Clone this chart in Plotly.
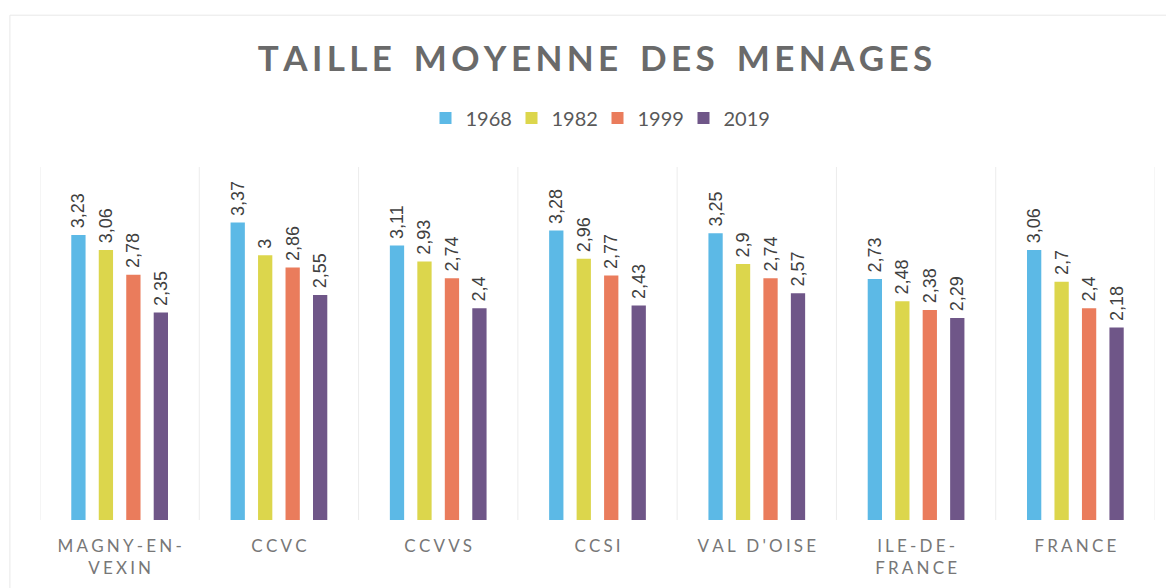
import plotly.graph_objects as go

categories = ["MAGNY-EN-<br>VEXIN", "CCVC", "CCVVS", "CCSI", "VAL D'OISE", "ILE-DE-<br>FRANCE", "FRANCE"]
years = ["1968", "1982", "1999", "2019"]
v1968 = [3.23, 3.37, 3.11, 3.28, 3.25, 2.73, 3.06]
v1982 = [3.06, 3.00, 2.93, 2.96, 2.90, 2.48, 2.70]
v1999 = [2.78, 2.86, 2.74, 2.77, 2.74, 2.38, 2.40]
v2019 = [2.35, 2.55, 2.40, 2.43, 2.57, 2.29, 2.18]
series = [v1968, v1982, v1999, v2019]
colors = ["#5cb9e6", "#dcd64c", "#ea7c5c", "#6f5688"]


def spaced(s):
    return "<br>".join("\u2009\u200a".join(part) for part in s.split("<br>"))


def fmt(v):
    return "\u2009" + ("%g" % v).replace(".", ",")

x_idx = list(range(len(categories)))
fig = go.Figure()
for name, vals, col in zip(years, series, colors):
    fig.add_trace(go.Bar(
        x=x_idx, y=vals, name=name,
        marker=dict(color=col, line=dict(width=0)),
        text=[fmt(v) for v in vals],
        textposition="outside", textangle=-90, constraintext="none",
        textfont=dict(family="Liberation Sans, Arial", size=18, color="#404040"),
        cliponaxis=False,
    ))

shapes = []
for i in range(len(categories) + 1):
    shapes.append(dict(type="line", xref="x", yref="paper", x0=i - 0.5, x1=i - 0.5,
                       y0=0, y1=1, line=dict(color="#ececec", width=1), layer="below"))
shapes.append(dict(type="rect", xref="paper", yref="paper", x0=-0.027, x1=1.015, y0=-0.3, y1=1.43,
                   line=dict(color="#e8e8e8", width=1), layer="below"))

title_text = "\u2009".join("TAILLE MOYENNE DES MENAGES").replace("\u2009 \u2009", "\u2002\u2009")

fig.update_layout(
    width=1174, height=588,
    paper_bgcolor="white", plot_bgcolor="white",
    margin=dict(l=32, r=27, t=159, b=76),
    barmode="group", bargap=0.31, bargroupgap=0.48,
    title=dict(text=title_text,
               x=0.5, xanchor="center", y=0.913, yanchor="middle",
               font=dict(family="Lato, DejaVu Sans", size=35, color="#6a6a6a", weight="bold")),
    legend=dict(orientation="h", x=0.5, xanchor="center", y=1.139, yanchor="middle",
                font=dict(family="Lato, DejaVu Sans", size=20, color="#595959"),
                itemwidth=30, entrywidth=41, entrywidthmode="pixels",
                traceorder="normal", itemsizing="constant"),
    showlegend=True,
    shapes=shapes,
    font=dict(family="Lato, DejaVu Sans"),
)
fig.update_xaxes(tickvals=x_idx, ticktext=[spaced(c) for c in categories],
                 range=[-0.5, len(categories) - 0.5], showgrid=False, zeroline=False,
                 showline=False, ticks="", ticklabelstandoff=14,
                 tickfont=dict(family="Lato, DejaVu Sans", size=17, color="#777777"))
fig.update_yaxes(range=[0, 4], showgrid=False, zeroline=False, showticklabels=False,
                 showline=False)

fig.write_html("out.html")
